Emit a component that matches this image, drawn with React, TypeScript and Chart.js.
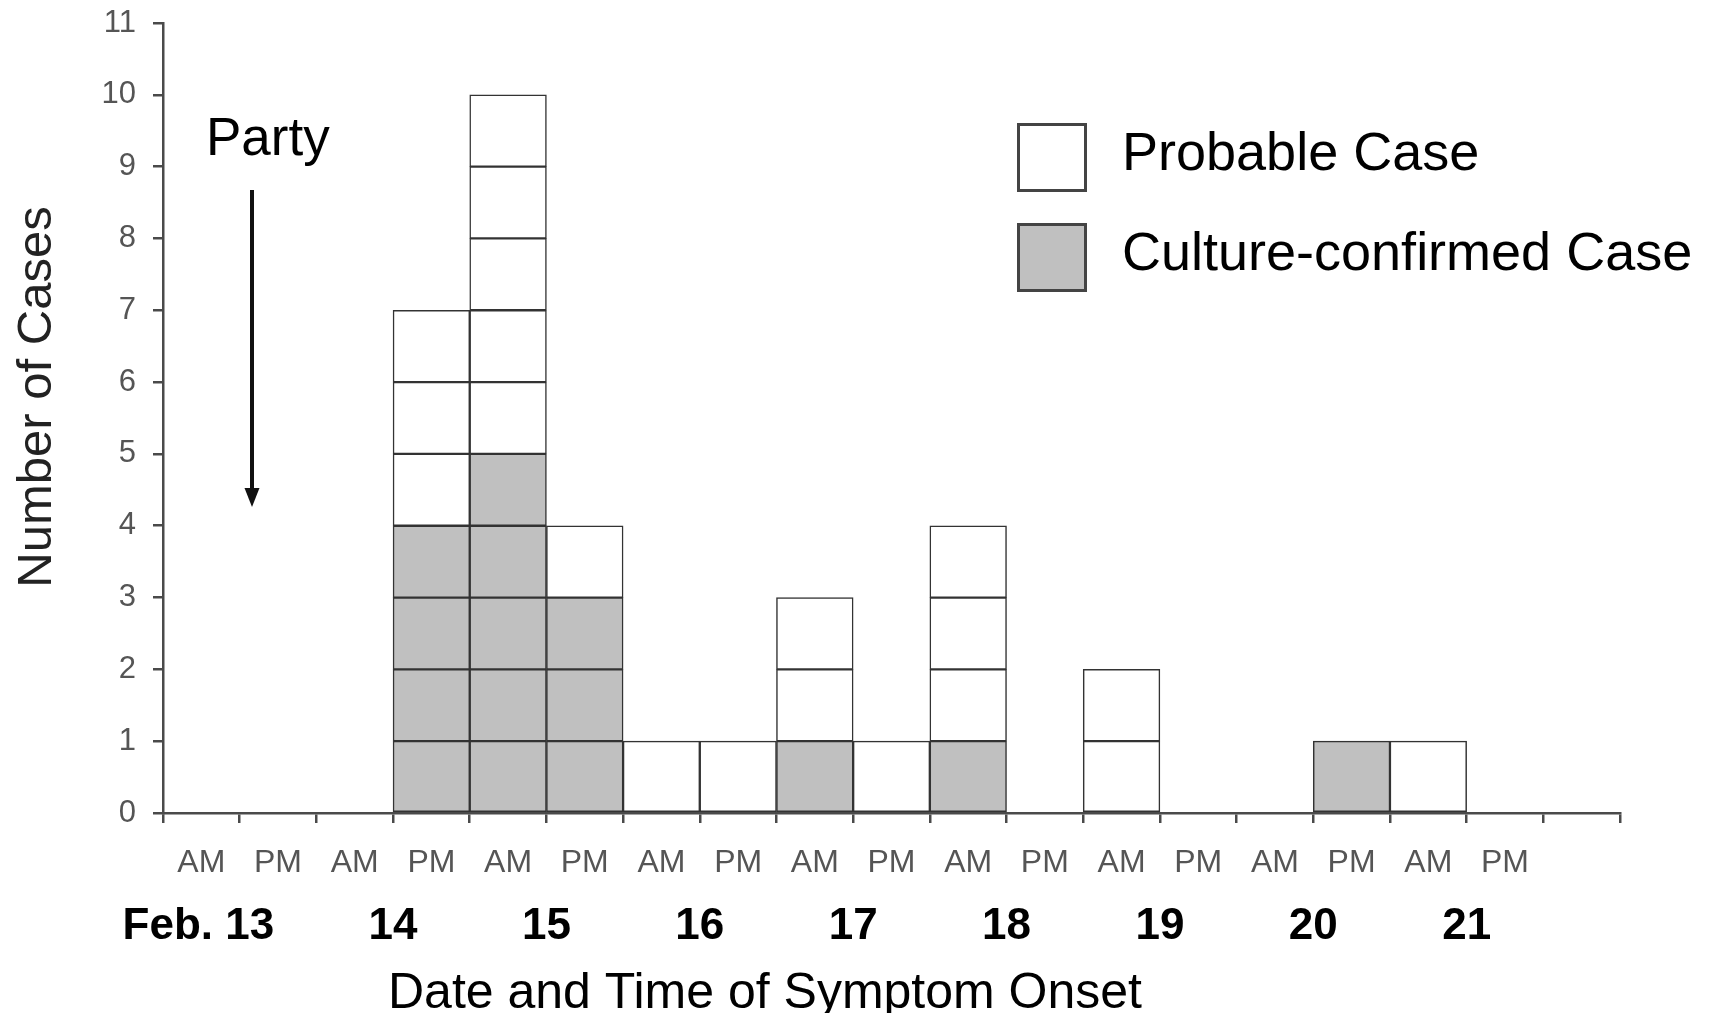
import React, { useEffect, useRef } from "react";
import { Chart, registerables } from "chart.js";

Chart.register(...registerables);

// ---- Data ----
const binLabels = ["AM", "PM", "AM", "PM", "AM", "PM", "AM", "PM", "AM", "PM", "AM", "PM", "AM", "PM", "AM", "PM", "AM", "PM", ""];
const confirmedCases = [0, 0, 0, 4, 5, 3, 0, 0, 1, 0, 1, 0, 0, 0, 0, 1, 0, 0, 0];
const probableCases = [0, 0, 0, 3, 5, 1, 1, 1, 2, 1, 3, 0, 2, 0, 0, 0, 1, 0, 0];
const dateLabels = ["Feb. 13", "14", "15", "16", "17", "18", "19", "20", "21"];
const yMin = 0;
const yMax = 11;
const seriesNames = ["Probable Case", "Culture-confirmed Case"];
const xTitle = "Date and Time of Symptom Onset";
const yTitle = "Number of Cases";
const annotationText = "Party";

// ---- Styles ----
const FONT = "'Liberation Sans', Arial, Helvetica, sans-serif";
const PROBABLE_COLOR = "#ffffff";
const CONFIRMED_COLOR = "#c0c0c0";
const EDGE_COLOR = "#333333";
const AXIS_COLOR = "#4a4a4a";

const totals = confirmedCases.map((c, i) => c + probableCases[i]);
const maxTotal = Math.max(...totals);

// one stacked dataset per unit-square layer
const layerDatasets = Array.from({ length: maxTotal }, (_, k) => ({
  label: `layer ${k + 1}`,
  data: totals.map((t) => (t >= k + 1 ? 1 : null)),
  backgroundColor: confirmedCases.map((c) => (k + 1 <= c ? CONFIRMED_COLOR : PROBABLE_COLOR)),
  borderColor: EDGE_COLOR,
  borderWidth: 1.5,
  borderSkipped: false as const,
  barPercentage: 1,
  categoryPercentage: 1,
}));

const overlayPlugin = {
  id: "overlay",
  afterDraw(chart: any) {
    const ctx = chart.ctx as CanvasRenderingContext2D;
    const xs = chart.scales.x;
    ctx.save();

    // date labels under the AM/PM ticks
    ctx.font = `bold 44px ${FONT}`;
    ctx.fillStyle = "#000";
    ctx.textAlign = "center";
    ctx.textBaseline = "middle";
    dateLabels.forEach((lab, d) => {
      const px = d === 0 ? xs.getPixelForValue(0) - 3 : (xs.getPixelForValue(2 * d) + xs.getPixelForValue(2 * d + 1)) / 2;
      ctx.fillText(lab, px, 927);
    });

    // x axis title
    ctx.font = `50px ${FONT}`;
    ctx.textBaseline = "alphabetic";
    ctx.fillText(xTitle, 765, 1008);

    // y axis title
    ctx.save();
    ctx.translate(37, 397);
    ctx.rotate(-Math.PI / 2);
    ctx.font = `49px ${FONT}`;
    ctx.fillStyle = "#222";
    ctx.textBaseline = "middle";
    ctx.fillText(yTitle, 0, 0);
    ctx.restore();

    // Party annotation with arrow
    ctx.font = `53px ${FONT}`;
    ctx.fillStyle = "#000";
    ctx.textAlign = "left";
    ctx.textBaseline = "alphabetic";
    ctx.fillText(annotationText, 206, 155);
    ctx.strokeStyle = "#111";
    ctx.lineWidth = 4;
    ctx.beginPath();
    ctx.moveTo(252, 190);
    ctx.lineTo(252, 492);
    ctx.stroke();
    ctx.fillStyle = "#111";
    ctx.beginPath();
    ctx.moveTo(244.5, 488);
    ctx.lineTo(259.5, 488);
    ctx.lineTo(252, 507);
    ctx.closePath();
    ctx.fill();

    // legend
    const colors = [PROBABLE_COLOR, CONFIRMED_COLOR];
    seriesNames.forEach((name, i) => {
      const top = 123 + i * 100;
      ctx.fillStyle = colors[i];
      ctx.fillRect(1017, top, 70, 69);
      ctx.strokeStyle = "#444";
      ctx.lineWidth = 3;
      ctx.strokeRect(1018.5, top + 1.5, 67, 66);
      ctx.fillStyle = "#000";
      ctx.font = `54px ${FONT}`;
      ctx.textAlign = "left";
      ctx.textBaseline = "alphabetic";
      ctx.fillText(name, 1122, top + 47);
    });

    ctx.restore();
  },
};

export default function App() {
  const canvasRef = useRef<HTMLCanvasElement | null>(null);

  useEffect(() => {
    document.body.style.margin = "0";
    document.body.style.overflow = "hidden";
    const canvas = canvasRef.current;
    if (!canvas) return;
    const chart = new Chart(canvas, {
      type: "bar",
      data: { labels: binLabels, datasets: layerDatasets as any },
      options: {
        animation: false,
        responsive: true,
        maintainAspectRatio: false,
        layout: { padding: { top: 23, right: 91, left: 0, bottom: 0 } },
        plugins: { legend: { display: false }, tooltip: { enabled: false } },
        scales: {
          x: {
            stacked: true,
            offset: true,
            afterFit: (s: any) => {
              s.height = 200;
            },
            grid: {
              offset: true,
              drawOnChartArea: false,
              drawTicks: true,
              tickLength: 10,
              color: AXIS_COLOR,
              lineWidth: 2.5,
            },
            border: { display: true, color: AXIS_COLOR, width: 2.5 },
            ticks: {
              autoSkip: false,
              maxRotation: 0,
              padding: 21,
              color: "#555",
              font: { family: FONT, size: 32 },
            },
          },
          y: {
            stacked: true,
            min: yMin,
            max: yMax,
            afterFit: (s: any) => {
              s.width = 163;
              s.paddingTop = 0;
              s.paddingBottom = 0;
            },
            grid: {
              drawOnChartArea: false,
              drawTicks: true,
              tickLength: 10,
              color: AXIS_COLOR,
              lineWidth: 2.5,
            },
            border: { display: true, color: AXIS_COLOR, width: 2.5 },
            ticks: {
              stepSize: 1,
              padding: 17,
              color: "#555",
              font: { family: FONT, size: 31 },
            },
          },
        },
      },
      plugins: [overlayPlugin],
    });
    return () => chart.destroy();
  }, []);

  return (
    <div style={{ width: 1711, height: 1013, position: "relative" }}>
      <canvas ref={canvasRef} />
    </div>
  );
}
